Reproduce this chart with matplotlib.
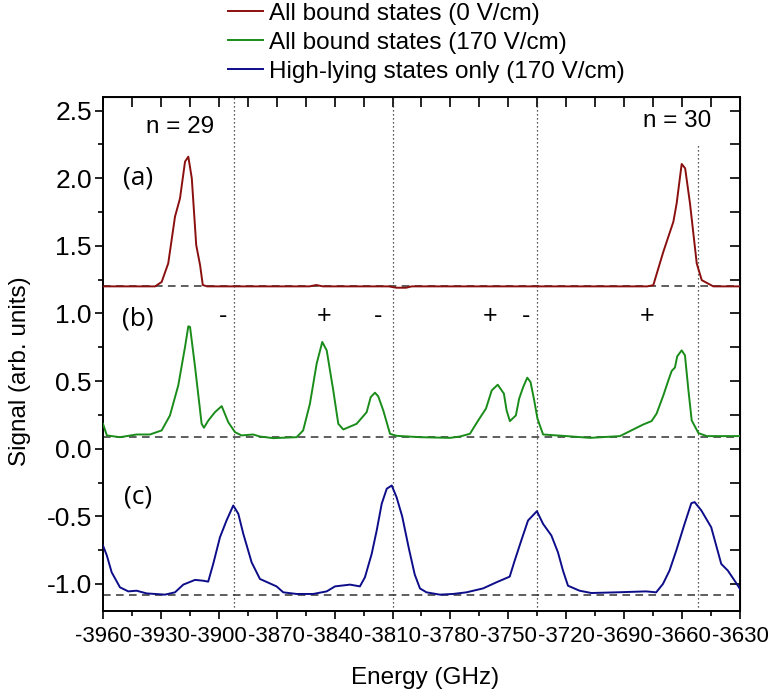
import matplotlib
matplotlib.use("Agg")
import matplotlib.pyplot as plt
from matplotlib.ticker import MultipleLocator, FormatStrFormatter

plt.rcParams["font.family"] = ["Liberation Sans", "DejaVu Sans"]
plt.rcParams["axes.unicode_minus"] = False

# (a) all bound states, 0 V/cm
energy_a = [-3960, -3945, -3933, -3929.6, -3926.2, -3922.7, -3920.1, -3917.5, -3915.8, -3914.0,
            -3911.7, -3909.7, -3908.3, -3906, -3880, -3853, -3849.5, -3846, -3820, -3812,
            -3808, -3803, -3800, -3780, -3740, -3700, -3678, -3674.9, -3669.7, -3664.5,
            -3662.8, -3660.2, -3658.4, -3655.9, -3652.4, -3649.8, -3643.8, -3630]
signal_a = [1.20, 1.20, 1.20, 1.233, 1.37, 1.715, 1.851, 2.122, 2.159, 2.0,
            1.505, 1.357, 1.21, 1.20, 1.20, 1.20, 1.21, 1.20, 1.20, 1.20,
            1.19, 1.19, 1.20, 1.20, 1.20, 1.20, 1.20, 1.209, 1.456, 1.678,
            1.814, 2.105, 2.073, 1.814, 1.37, 1.246, 1.20, 1.20]

# (b) all bound states, 170 V/cm
energy_b = [-3960, -3958, -3951.2, -3942.6, -3935.7, -3929.6, -3925.3, -3921.0, -3917.5, -3915.8,
            -3914.9, -3912.3, -3908.9, -3907.7, -3905.4, -3902.0, -3898.5, -3895.1, -3891.6, -3888.2,
            -3882.2, -3878.7, -3871.8, -3859.7, -3856.3, -3852.8, -3849.3, -3846.4, -3844.1, -3840.7,
            -3838.1, -3835.5, -3828.6, -3823.4, -3821.3, -3819.1, -3817.4, -3814.8, -3811.3, -3807.9,
            -3795.8, -3780.2, -3775.1, -3769.9, -3765.6, -3761.6, -3758.6, -3755.5, -3752.3, -3750.9,
            -3749.2, -3746.1, -3744.4, -3742.3, -3740.2, -3738.5, -3736.6, -3734.9, -3732.0, -3719.8,
            -3707.7, -3692.2, -3685.3, -3680.1, -3675.8, -3673.2, -3669.7, -3667.1, -3665.4, -3663.7,
            -3662.5, -3660.2, -3658.5, -3656.7, -3655.0, -3651.5, -3647.2, -3630]
signal_b = [0.184, 0.098, 0.085, 0.105, 0.105, 0.135, 0.246, 0.468, 0.752, 0.905,
            0.90, 0.604, 0.184, 0.155, 0.209, 0.27, 0.315, 0.196, 0.122, 0.098,
            0.105, 0.09, 0.078, 0.085, 0.135, 0.332, 0.629, 0.789, 0.727, 0.431,
            0.184, 0.142, 0.184, 0.27, 0.381, 0.414, 0.387, 0.283, 0.11, 0.095,
            0.085, 0.08, 0.09, 0.11, 0.209, 0.296, 0.431, 0.473, 0.407, 0.283,
            0.204, 0.246, 0.37, 0.456, 0.525, 0.493, 0.357, 0.222, 0.105, 0.093,
            0.08, 0.093, 0.142, 0.179, 0.204, 0.259, 0.394, 0.505, 0.574, 0.60,
            0.683, 0.727, 0.69, 0.431, 0.209, 0.115, 0.093, 0.093]

# (c) high-lying states only, 170 V/cm
energy_c = [-3960, -3958, -3955.5, -3951.2, -3946.9, -3942.6, -3937.4, -3932, -3927.9, -3922.7,
            -3918.4, -3912.3, -3908.1, -3905.5, -3902.9, -3899.4, -3896.0, -3892.5, -3889.9, -3887.3,
            -3883.0, -3878.7, -3870.1, -3866.6, -3859.7, -3851.1, -3844.1, -3839.8, -3832.0, -3826.9,
            -3824.3, -3820.8, -3818.2, -3815.6, -3813.0, -3810.4, -3807.9, -3805.0, -3801.5, -3798.5,
            -3795.8, -3792.4, -3785.5, -3778.6, -3771.7, -3763.1, -3756.2, -3749.3, -3746.7, -3743.3,
            -3739.8, -3735.2, -3732.0, -3727.7, -3724.3, -3721.7, -3719.1, -3713.1, -3707.0, -3694.1,
            -3678.6, -3673.4, -3669.9, -3666.5, -3663.0, -3658.7, -3655.2, -3653.5, -3650.0, -3644.9,
            -3639.7, -3636.3, -3632.8, -3630]
signal_c = [-0.716, -0.79, -0.914, -1.025, -1.055, -1.05, -1.07, -1.075, -1.079, -1.062,
            -1.005, -0.97, -0.976, -0.983, -0.852, -0.655, -0.531, -0.42, -0.481, -0.63,
            -0.84, -0.963, -1.018, -1.062, -1.074, -1.074, -1.055, -1.018, -1.005, -1.018,
            -0.951, -0.778, -0.605, -0.407, -0.296, -0.272, -0.359, -0.50, -0.74, -0.93,
            -1.033, -1.062, -1.079, -1.074, -1.062, -1.033, -0.988, -0.946, -0.827, -0.679,
            -0.531, -0.462, -0.556, -0.642, -0.766, -0.901, -1.013, -1.05, -1.067, -1.062,
            -1.055, -1.062, -1.0, -0.901, -0.753, -0.556, -0.403, -0.395, -0.457, -0.581,
            -0.852, -0.901, -0.975, -1.037]

baselines = [1.2, 0.09, -1.08]
marker_lines = [-3892, -3810, -3735, -3652]
marker_tops = [2.6, 2.6, 2.6, 2.26]

parity_x = [-3898, -3845.5, -3817.5, -3759.5, -3741, -3678]
parity_sign = ["-", "+", "-", "+", "-", "+"]

labels = ["All bound states (0 V/cm)", "All bound states (170 V/cm)",
          "High-lying states only (170 V/cm)"]
colors = ["#8a0f0f", "#1a8c1a", "#0d0d8a"]

fig = plt.figure(figsize=(7.68, 6.94), dpi=100)
ax = fig.add_axes([0.1341, 0.1196, 0.8294, 0.7406])

for y0 in baselines:
    ax.axhline(y0, color="#333333", lw=1.1, ls=(0, (5, 3.5)), zorder=1)
for xv, top in zip(marker_lines, marker_tops):
    ax.plot([xv, xv], [-1.2, top], color="#222222", lw=0.9, ls=(0, (1, 2.2)), zorder=1)

lines = []
for xs, ys, c, lab in zip([energy_a, energy_b, energy_c], [signal_a, signal_b, signal_c], colors, labels):
    ln, = ax.plot(xs, ys, color=c, lw=1.4, label=lab, zorder=3)
    lines.append(ln)

ax.set_xlim(-3960, -3630)
ax.set_ylim(-1.2, 2.6)
ax.xaxis.set_major_locator(MultipleLocator(30))
ax.xaxis.set_minor_locator(MultipleLocator(15))
ax.yaxis.set_major_locator(MultipleLocator(0.5))
ax.yaxis.set_minor_locator(MultipleLocator(0.25))
ax.yaxis.set_major_formatter(FormatStrFormatter("%.1f"))
ax.tick_params(which="major", direction="out", length=6, width=1.2)
ax.tick_params(which="minor", direction="out", length=3.5, width=1.2)
ax.tick_params(axis="x", labelsize=16, pad=5)
ax.tick_params(axis="y", labelsize=19, pad=2)
for sp in ax.spines.values():
    sp.set_linewidth(1.4)

# mirrored inward ticks on top and right
top = ax.secondary_xaxis("top")
top.xaxis.set_major_locator(MultipleLocator(15))
top.tick_params(direction="in", length=7, width=1.2, labeltop=False)
right = ax.secondary_yaxis("right")
right.yaxis.set_major_locator(MultipleLocator(0.25))
right.tick_params(direction="in", length=7, width=1.2, labelright=False)

ax.set_xlabel("Energy (GHz)", fontsize=17.5)
ax.set_ylabel("Signal (arb. units)", fontsize=17.5)
ax.xaxis.set_label_coords(0.505, -0.108)
ax.yaxis.set_label_coords(-0.113, 0.467)

ax.text(-3920, 2.38, "n = 29", fontsize=17.5, ha="center", va="center")
ax.text(-3662.7, 2.42, "n = 30", fontsize=17.5, ha="center", va="center")
for lab, yv in zip(["(a)", "(b)", "(c)"], [2.0, 0.96, -0.36]):
    ax.text(-3942, yv, lab, fontsize=19, ha="center", va="center", family=["Open Sans", "DejaVu Sans"])
for xv, s in zip(parity_x, parity_sign):
    ax.text(xv, 0.98, s, fontsize=18, ha="center", va="center")

fig.legend(handles=lines, loc="upper left", bbox_to_anchor=(225 / 768, 1.0), frameon=False,
           fontsize=17.5, handlelength=1.45, handletextpad=0.25, labelspacing=0.28, borderpad=0.12,
           borderaxespad=0)

fig.savefig("out.png", dpi=100)
